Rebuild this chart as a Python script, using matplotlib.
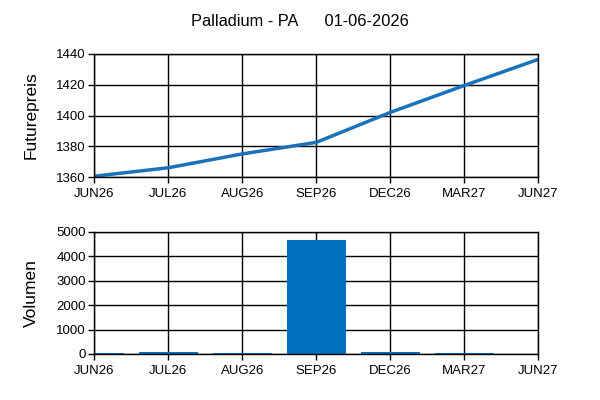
import matplotlib.pyplot as plt
import numpy as np

plt.rcParams['font.family'] = ['Liberation Sans', 'DejaVu Sans']

months = ['JUN26', 'JUL26', 'AUG26', 'SEP26', 'DEC26', 'MAR27', 'JUN27']
preis = [1360.5, 1366, 1375, 1382.5, 1402, 1419.5, 1436.5]
volumen = [40, 80, 40, 4670, 80, 40, 0]

x = np.arange(len(months))
fig = plt.figure(figsize=(6, 4), dpi=100)
fig.text(0.5, 0.947, 'Palladium - PA      01-06-2026', ha='center', va='center', fontsize=11.8)

ax1 = fig.add_axes([0.157, 0.5575, 0.74, 0.3075])
ax1.plot(x, preis, color='#1a72bb', lw=2.5)
ax1.set_xlim(0, len(months) - 1)
ax1.set_ylim(1360, 1440)
ax1.set_yticks(np.arange(1360, 1441, 20))
ax1.set_ylabel('Futurepreis', fontsize=12.5)

ax2 = fig.add_axes([0.157, 0.115, 0.74, 0.305])
ax2.bar(x, volumen, width=0.8, color='#0070c0')
ax2.set_xlim(0, len(months) - 1)
ax2.set_ylim(0, 5000)
ax2.set_yticks(np.arange(0, 5001, 1000))
ax2.set_ylabel('Volumen', fontsize=12.5)

for ax in (ax1, ax2):
    ax.set_xticks(x)
    ax.set_xticklabels(months)
    ax.grid(True, color='black', lw=1)
    ax.set_axisbelow(True)
    ax.tick_params(labelsize=9.5, length=4, width=1, color='black')
    ax.tick_params(axis='x', pad=4)
    ax.tick_params(axis='y', pad=2)
    for s in ax.spines.values():
        s.set_color('black')
        s.set_linewidth(1)
    ax.yaxis.set_label_coords(-0.125, 0.5)

fig.savefig('out.png')
